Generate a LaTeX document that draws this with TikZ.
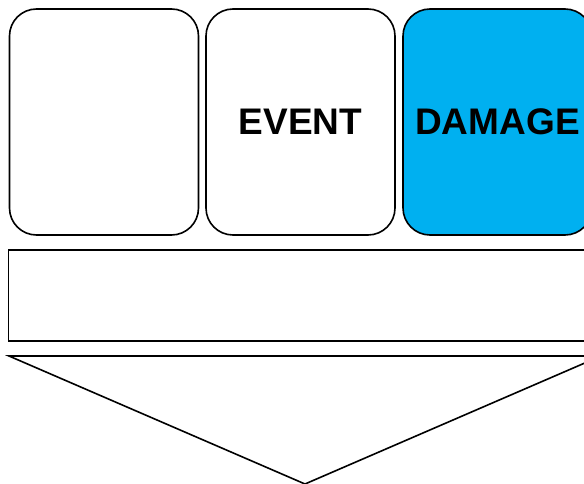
\documentclass[tikz,border=0pt]{standalone}
\usepackage{fontspec}
\setmainfont{Liberation Sans}
\usepackage{tikz}
\definecolor{dmgblue}{HTML}{00B0F0}

\begin{document}
\begin{tikzpicture}[x=1pt,y=-1pt,
    card/.style={draw,line width=1.6pt,rounded corners=27pt,
      minimum width=189pt,minimum height=226pt,inner sep=0pt,
      font=\fontsize{37}{40}\selectfont\bfseries},
    bar/.style={draw,line width=1.6pt,minimum width=585pt,minimum height=91pt,inner sep=0pt},]

    \useasboundingbox (0,0) rectangle (584,484);
    \clip (0,0) rectangle (584,484);

    \node[card] (cause) at (104,122) {};

    \node[card] (event) at (300.5,122) {EVENT};

    \node[card,fill=dmgblue] (damage) at (497.5,122) {DAMAGE};

    \node[bar] (band) at (301,295.5) {};

    \draw[line width=1.6pt,line join=miter] (9,356) -- (601,356) -- (305,484) -- cycle;

  \end{tikzpicture}
\end{document}
